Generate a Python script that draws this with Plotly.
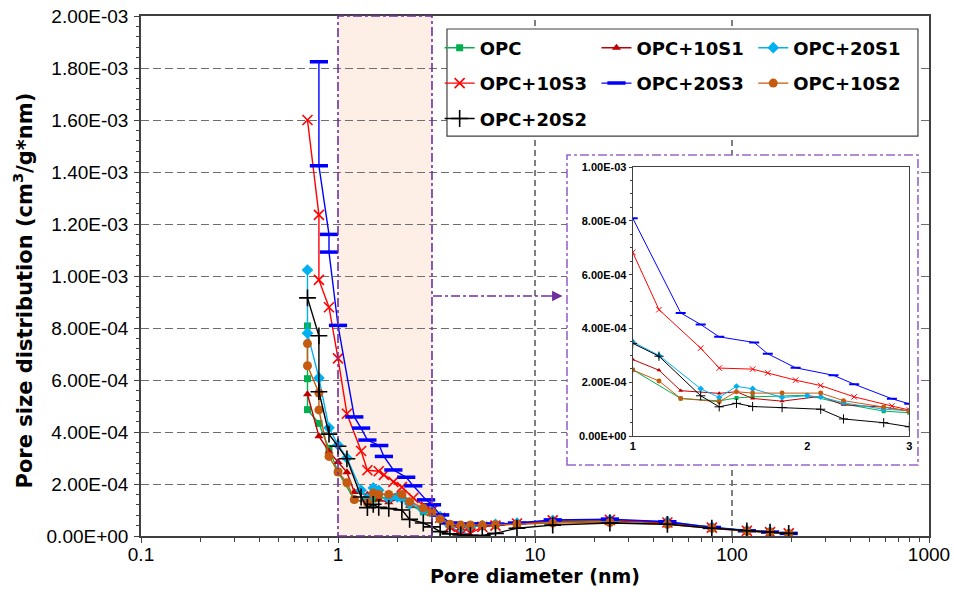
import math
import plotly.graph_objects as go

# ---------------- data (pore diameter nm, PSD in 1e-4 cm3/g*nm) ----------------
tail_x = [3.3, 3.7, 4.2, 4.7, 5.4, 6.3, 8.1, 12.3, 24, 47, 79, 119, 156, 194]

opc_x = [0.70, 0.70, 0.70, 0.80, 0.90, 1.00, 1.21, 1.41, 1.51, 1.61, 2.00, 2.31, 2.71, 3.00] + tail_x
opc_y = [8.08, 6.05, 4.86, 4.33, 3.37, 2.47, 1.40, 1.31, 1.42, 1.46, 1.52, 1.20, 0.93, 0.87,
         0.70, 0.45, 0.40, 0.42, 0.40, 0.42, 0.48, 0.55, 0.58, 0.50, 0.33, 0.20, 0.15, 0.10]

s10s1_x = [0.70, 0.80, 0.90, 1.00, 1.11, 1.21, 1.41, 1.51, 1.61, 1.81, 2.11, 2.31, 2.71, 3.00] + tail_x
s10s1_y = [5.45, 3.84, 3.25, 2.85, 2.45, 1.69, 1.59, 1.65, 1.40, 1.30, 1.48, 1.16, 1.08, 0.93,
           0.70, 0.40, 0.30, 0.38, 0.40, 0.42, 0.50, 0.58, 0.60, 0.52, 0.32, 0.20, 0.15, 0.10]

s20s1_x = [0.70, 0.70, 0.80, 0.90, 1.00, 1.11, 1.31, 1.41, 1.51, 1.61, 1.81, 2.00, 2.11, 2.31, 2.71, 3.00] + tail_x
s20s1_y = [10.23, 7.80, 6.08, 4.16, 3.50, 3.00, 1.76, 1.44, 1.85, 1.76, 1.44, 1.50, 1.46, 1.24, 1.00, 0.95,
           0.75, 0.40, 0.10, 0.35, 0.40, 0.45, 0.50, 0.60, 0.62, 0.55, 0.34, 0.22, 0.16, 0.08]

s10s3_x = [0.70, 0.80, 0.80, 0.90, 1.00, 1.11, 1.31, 1.41, 1.61, 1.71, 1.91, 2.11, 2.41, 2.80, 3.00] + tail_x
s10s3_y = [16.0, 12.35, 9.85, 8.80, 6.83, 4.70, 3.27, 2.53, 2.49, 2.35, 2.08, 1.88, 1.46, 1.12, 0.97,
           0.70, 0.35, 0.05, 0.10, 0.35, 0.40, 0.48, 0.60, 0.62, 0.52, 0.32, 0.20, 0.15, 0.10]

s20s3_x = [0.80, 0.80, 0.90, 0.90, 1.00, 1.21, 1.31, 1.41, 1.62, 1.71, 1.91, 2.22, 2.41, 2.80, 3.00] + tail_x
s20s3_y = [18.24, 14.24, 11.60, 10.92, 8.10, 4.58, 4.15, 3.69, 3.48, 3.06, 2.54, 2.26, 1.93, 1.39, 1.20,
           0.81, 0.50, 0.45, 0.46, 0.45, 0.46, 0.50, 0.62, 0.65, 0.55, 0.33, 0.20, 0.15, 0.10]

s10s2_x = [0.70, 0.70, 0.80, 0.80, 0.90, 1.00, 1.11, 1.21, 1.41, 1.51, 1.61, 1.81, 2.11, 2.31, 2.71, 3.00] + tail_x
s10s2_y = [7.40, 6.55, 5.50, 4.85, 3.06, 2.46, 2.05, 1.40, 1.28, 1.65, 1.60, 1.60, 1.60, 1.32, 1.08, 0.93,
           0.65, 0.45, 0.42, 0.42, 0.42, 0.43, 0.45, 0.50, 0.52, 0.45, 0.30, 0.18, 0.14, 0.09]

s20s2_x = [0.70, 0.80, 0.80, 0.90, 1.00, 1.11, 1.31, 1.41, 1.51, 1.61, 1.81, 2.11, 2.31, 2.71, 3.00] + tail_x
s20s2_y = [9.16, 7.70, 5.55, 3.92, 3.45, 2.97, 1.50, 1.09, 1.22, 1.10, 1.06, 1.00, 0.64, 0.50, 0.35,
           0.17, 0.08, 0.04, 0.03, 0.02, 0.10, 0.30, 0.42, 0.50, 0.45, 0.30, 0.20, 0.15, 0.10]

SCALE = 1e-4

y_ticks = [0, 2e-4, 4e-4, 6e-4, 8e-4, 1e-3, 1.2e-3, 1.4e-3, 1.6e-3, 1.8e-3, 2e-3]
x_ticks = [0.1, 1, 10, 100, 1000]
x_tick_labels = ["0.1", "1", "10", "100", "1000"]
x_grid_vals = [10, 100]
inset_y_ticks = [0, 2e-4, 4e-4, 6e-4, 8e-4, 1e-3]
inset_x_ticks = [1, 2, 3]
inset_grid_vals = [4e-4, 6e-4]
zoom_range = [1, 3]

# ---------------- styles ----------------
series = [
    ("OPC", opc_x, opc_y, "#00B050", "square", 7, "legend"),
    ("OPC+10S3", s10s3_x, s10s3_y, "#FF0000", "x-thin", 10, "legend"),
    ("OPC+20S2", s20s2_x, s20s2_y, "#000000", "cross-thin", 12, "legend"),
    ("OPC+10S1", s10s1_x, s10s1_y, "#C00000", "triangle-up", 8, "legend2"),
    ("OPC+20S3", s20s3_x, s20s3_y, "#0000FF", "line-ew", 13, "legend2"),
    ("OPC+20S1", s20s1_x, s20s1_y, "#00B0F0", "diamond", 9, "legend3"),
    ("OPC+10S2", s10s2_x, s10s2_y, "#C55A11", "circle", 9, "legend3"),
]
draw_order = ["OPC", "OPC+10S1", "OPC+20S1", "OPC+10S3", "OPC+20S3", "OPC+10S2", "OPC+20S2"]

fig = go.Figure()

# empty frame subplot (x2/y2) that whites out the main grid behind the inset
fig.add_trace(go.Scatter(x=[], y=[], xaxis="x2", yaxis="y2", showlegend=False, hoverinfo="skip"))

by_name = {s[0]: s for s in series}
for nm in draw_order:
    name, xs, ys, col, sym, sz, leg = by_name[nm]
    yv = [v * SCALE for v in ys]
    open_sym = sym in ("x-thin", "cross-thin", "line-ew")
    mk = dict(symbol=sym, size=sz, color=col,
              line=dict(color=col, width=3.5 if sym == "line-ew" else (1.6 if open_sym else 0)))
    fig.add_trace(go.Scatter(x=xs, y=yv, mode="lines+markers", name=name,
                             line=dict(color=col, width=1.4), marker=mk,
                             legend=leg, legendgroup=name, xaxis="x", yaxis="y"))
    mk2 = dict(symbol=sym, size=max(4, sz * 0.55), color=col,
               line=dict(color=col, width=2 if sym == "line-ew" else (1 if open_sym else 0)))
    fig.add_trace(go.Scatter(x=xs, y=yv, mode="lines+markers", name=name, showlegend=False,
                             line=dict(color=col, width=1), marker=mk2,
                             xaxis="x3", yaxis="y3"))

tick_font = dict(family="Liberation Sans, Arial, sans-serif", size=19, color="#000000")
title_font_x = dict(family="DejaVu Sans, sans-serif", size=19, color="#000000", weight="bold")
title_font_y = dict(family="DejaVu Sans, sans-serif", size=21, color="#000000", weight="bold")
inset_font = dict(family="Liberation Sans, Arial", size=11, color="black", weight="bold")
axis_col = "#404040"
purple = "#7030A0"

minor_x = [k * 10 ** e for e in range(-1, 3) for k in range(2, 10)]

frame_x = [0.5406, 0.986]
frame_y = [0.1365, 0.7327]

fig.update_layout(
    template="none",
    width=954, height=603,
    margin=dict(l=141, r=25, t=16, b=67),
    paper_bgcolor="white", plot_bgcolor="white",
    xaxis=dict(type="log", range=[-1, 3], tickmode="array", tickvals=x_ticks, ticktext=x_tick_labels,
               tickfont=tick_font, ticks="outside", ticklen=5, tickcolor=axis_col, tickwidth=1.2,
               ticklabelstandoff=-5,
               showline=True, linecolor=axis_col, linewidth=1.5, mirror=True,
               showgrid=False, automargin=False, ticklabeloverflow="allow",
               minor=dict(tickmode="array", tickvals=minor_x, ticks="outside", ticklen=4,
                          tickcolor=axis_col, showgrid=False),
               title=dict(text="Pore diameter (nm)", font=title_font_x, standoff=2),
               zeroline=False),
    yaxis=dict(range=[0, 2e-3], tickmode="array", tickvals=y_ticks,
               ticktext=[f"{v:.2E}" for v in y_ticks], tickfont=tick_font,
               ticks="outside", ticklen=5, tickcolor=axis_col, tickwidth=1.2, ticklabelstandoff=2,
               showline=True, linecolor=axis_col, linewidth=1.5, mirror=True,
               showgrid=True, gridcolor="#6E6E6E", gridwidth=1.3, griddash="8px,4px",
               ticklabeloverflow="allow",
               minor=dict(dtick=4e-5, ticks="outside", ticklen=3, tickcolor=axis_col, showgrid=False),
               title=dict(text="Pore size distribution (cm<sup>3</sup>/g*nm)&nbsp;&nbsp;&nbsp;&nbsp;",
                          font=title_font_y, standoff=8),
               zeroline=False, automargin=False),
    xaxis2=dict(domain=frame_x, anchor="y2", visible=False, range=[0, 1]),
    yaxis2=dict(domain=frame_y, anchor="x2", visible=False, range=[0, 1]),
    xaxis3=dict(type="log", range=[0, math.log10(3)], domain=[0.624, 0.975], anchor="y3",
                tickmode="array", tickvals=inset_x_ticks, ticktext=[str(v) for v in inset_x_ticks],
                tickfont=inset_font, ticks="", showline=True, linecolor=axis_col, linewidth=1.2,
                mirror=True, showgrid=False, zeroline=False, automargin=False),
    yaxis3=dict(range=[0, 1e-3], domain=[0.192, 0.7096], anchor="x3",
                tickmode="array", tickvals=inset_y_ticks, ticktext=[f"{v:.2E}" for v in inset_y_ticks],
                tickfont=inset_font, ticks="outside", ticklen=3, tickcolor=axis_col,
                minor=dict(dtick=5e-5, ticks="outside", ticklen=2, tickcolor=axis_col, showgrid=False),
                showline=True, linecolor=axis_col, linewidth=1.2, mirror=True,
                showgrid=False, zeroline=False, automargin=False),
    showlegend=True,
)

leg_font = dict(family="DejaVu Sans, sans-serif", size=18, color="black", weight="bold")
leg_common = dict(font=leg_font, bgcolor="rgba(0,0,0,0)", borderwidth=0, orientation="v",
                  xanchor="left", yanchor="top", tracegroupgap=9, itemwidth=30,
                  traceorder="grouped")
fig.update_layout(
    legend=dict(x=0.379, y=0.974, **leg_common),
    legend2=dict(x=0.578, y=0.974, **leg_common),
    legend3=dict(x=0.777, y=0.974, **leg_common),
)

shapes = []
# shaded zoom region in main plot
shapes.append(dict(type="rect", xref="x", yref="y domain", layer="below",
                   x0=zoom_range[0], x1=zoom_range[1], y0=0, y1=1,
                   fillcolor="#FDEFE6", line=dict(width=0)))
# vertical grid lines
for gx in x_grid_vals:
    shapes.append(dict(type="line", xref="x", yref="y domain", layer="below",
                       x0=gx, x1=gx, y0=0, y1=1,
                       line=dict(color="#000000", width=1, dash="6px,4px")))
# border of shaded region
shapes.append(dict(type="rect", xref="x", yref="y domain", layer="above",
                   x0=zoom_range[0], x1=zoom_range[1], y0=0, y1=1,
                   line=dict(color=purple, width=1.6, dash="dashdot")))
# inset frame border
shapes.append(dict(type="rect", xref="paper", yref="paper", layer="above",
                   x0=frame_x[0], x1=frame_x[1], y0=frame_y[0], y1=frame_y[1],
                   line=dict(color="#9966CC", width=1.6, dash="dashdot")))
# inset gridlines
for gv in inset_grid_vals:
    shapes.append(dict(type="line", xref="x3 domain", yref="y3", layer="below",
                       x0=0, x1=1, y0=gv, y1=gv, line=dict(color="#303030", width=1, dash="6px,3px")))
# arrow line
shapes.append(dict(type="line", xref="paper", yref="paper", layer="above",
                   x0=0.3706, x1=0.528, y0=0.4615, y1=0.4615,
                   line=dict(color=purple, width=1.5, dash="dashdot")))
# legend frame
shapes.append(dict(type="rect", xref="paper", yref="paper", layer="above",
                   x0=0.3883, x1=0.986, y0=0.769, y1=0.975,
                   fillcolor="white", line=dict(color="#404040", width=1.2)))
fig.update_layout(shapes=shapes)

fig.add_annotation(xref="paper", yref="paper", x=0.535, y=0.4615, ax=-14, ay=0,
                   text="", showarrow=True, arrowhead=2, arrowsize=1.4, arrowwidth=1.5,
                   arrowcolor=purple)

fig.write_html("out.html", config={"displayModeBar": False},
               post_script="document.body.style.margin='0';document.body.style.overflow='hidden';")
